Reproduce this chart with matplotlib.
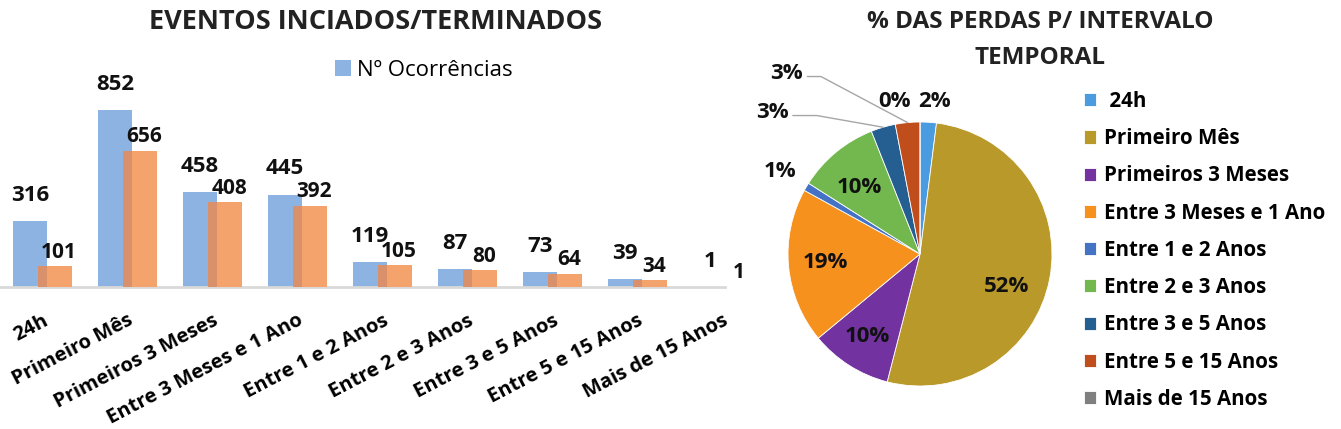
import numpy as np
import matplotlib
matplotlib.use('Agg')
import matplotlib.pyplot as plt

plt.rcParams['font.family'] = ['Open Sans', 'DejaVu Sans']

#%% Data
categories = ['24h', 'Primeiro Mês', 'Primeiros 3 Meses', 'Entre 3 Meses e 1 Ano',
              'Entre 1 e 2 Anos', 'Entre 2 e 3 Anos', 'Entre 3 e 5 Anos',
              'Entre 5 e 15 Anos', 'Mais de 15 Anos']
ocorrencias = [316, 852, 458, 445, 119, 87, 73, 39, 1]
terminados = [101, 656, 408, 392, 105, 80, 64, 34, 1]
perdas_pct = [2, 52, 10, 19, 1, 10, 3, 3, 0]
pie_labels = [' 24h'] + categories[1:]

#%% Style
blue = '#8DB3E2'
orange = '#F5A36C'
overlap_col = '#D9916B'
pie_colors = ['#4A9BE0', '#B8992A', '#7232A0', '#F7911E', '#4472C4',
              '#72B84E', '#255E91', '#BF4E1C', '#7F7F7F']
# label placement for the pie: radius and angle shift from slice middle
label_r = [1.16, 0.70, 0.74, 0.72, 1.23, 0.68, 1.55, 1.70, 1.17]
label_dang = [-2, -10, 0, 0, 0, 3, 30, 31, 9.5]
leader_angB = [None, None, None, None, None, None, -10, -28, None]

W, H = 1341, 429
fig = plt.figure(figsize=(W / 100, H / 100), dpi=100)


def px_box(left, top, width, height):
    return [left / W, 1 - (top + height) / H, width / W, height / H]


#%% Bar chart
ax = fig.add_axes(px_box(0, 79.3, 725, 207.7))
x = np.arange(len(categories))
off, w = 0.147, 0.4
b1 = ax.bar(x - off, ocorrencias, w, color=blue, label='Nº Ocorrências', zorder=2)
ax.bar(x + off, terminados, w, color=orange, zorder=3)
ax.bar(x + off - w / 2, np.minimum(ocorrencias, terminados), w - 2 * off,
       align='edge', color=overlap_col, zorder=4)

for xi, v in zip(x, ocorrencias):
    ax.annotate(str(v), (xi - off, v), xytext=(0, 14.5), textcoords='offset points',
                ha='center', va='baseline', fontsize=16, fontweight='bold',
                color='#111111', annotation_clip=False)
for xi, v in zip(x, terminados):
    ax.annotate(str(v), (xi + off, v), xytext=(3, 6), textcoords='offset points',
                ha='center', va='baseline', fontsize=15, fontweight='bold',
                color='#111111', annotation_clip=False)

ax.set_xlim(-0.5, 8.03)
ax.set_ylim(0, 1000)
ax.set_yticks([])
ax.set_xticks(x)
ax.set_xticklabels(categories, rotation=27.5, ha='right', va='top',
                   rotation_mode='anchor', fontsize=14.5, fontweight='bold')
ax.tick_params(axis='x', length=0, pad=17)
for s in ['top', 'left', 'right']:
    ax.spines[s].set_visible(False)
ax.spines['bottom'].set_color('#D9D9D9')
ax.spines['bottom'].set_linewidth(2)

fig.text(376 / W, 1 - 22 / H, 'EVENTOS INCIADOS/TERMINADOS', ha='center', va='center',
         fontsize=19.5, fontweight='bold', color='#222222')
fig.legend(handles=[b1], loc='center left', bbox_to_anchor=(335 / W, 1 - 70 / H),
           frameon=False, fontsize=16, handlelength=0.7, handleheight=0.7,
           handletextpad=0.3, borderaxespad=0, borderpad=0)

#%% Pie chart
cx, cy, r = 920, 254, 132
k = 1.6
ax2 = fig.add_axes(px_box(cx - k * r, cy - k * r, 2 * k * r, 2 * k * r))
wedges, _ = ax2.pie(perdas_pct, colors=pie_colors, startangle=90, counterclock=False,
                    wedgeprops=dict(edgecolor='white', linewidth=0.6))
ax2.set_xlim(-k, k)
ax2.set_ylim(-k, k)
ax2.axis('off')

for i, wd in enumerate(wedges):
    mid = np.deg2rad((wd.theta1 + wd.theta2) / 2)
    ang = mid + np.deg2rad(label_dang[i])
    pos = (label_r[i] * np.cos(ang), label_r[i] * np.sin(ang))
    txt = '{}%'.format(perdas_pct[i])
    if leader_angB[i] is None:
        ax2.text(pos[0], pos[1], txt, ha='center', va='center', fontsize=16,
                 fontweight='bold', color='#111111')
    else:
        ax2.annotate(txt, (np.cos(mid), np.sin(mid)), xytext=pos, ha='center', va='center',
                     fontsize=16, fontweight='bold', color='#111111',
                     arrowprops=dict(arrowstyle='-', color='#A6A6A6', lw=1,
                                     shrinkA=1, shrinkB=0, relpos=(1, 0.35),
                                     connectionstyle='angle,angleA=0,angleB={},rad=0'.format(leader_angB[i])))

fig.text(1040 / W, 1 - 40 / H, '% DAS PERDAS P/ INTERVALO\nTEMPORAL', ha='center',
         va='center', fontsize=17.5, fontweight='bold', color='#222222', linespacing=1.68)
fig.legend(wedges, pie_labels, loc='upper left', bbox_to_anchor=(1084 / W, 1 - 91 / H),
           frameon=False, prop=dict(size=14.8, weight='bold'), handlelength=0.6,
           handleheight=0.6, handletextpad=0.35, labelspacing=0.79,
           borderaxespad=0, borderpad=0)

fig.savefig('out.png', dpi=100)
